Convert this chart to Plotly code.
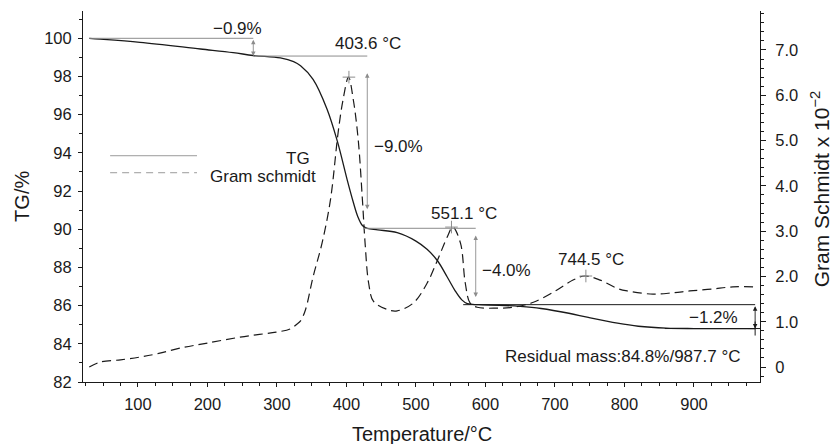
import plotly.graph_objects as go

# ---- data ----
tg_temp = [30, 46, 103, 190, 237, 266, 305, 324, 334, 352, 372, 387, 401, 410, 416, 423, 430,
           445, 473, 500, 516, 531, 545, 556, 566, 574, 590, 620, 650, 680, 720, 748, 790, 820,
           860, 900, 950, 988]
tg_val = [100.0, 99.96, 99.79, 99.44, 99.25, 99.1, 98.97, 98.78, 98.56, 97.85, 96.3, 94.6, 92.6,
          91.4, 90.7, 90.2, 90.05, 89.97, 89.82, 89.38, 88.95, 88.35, 87.5, 86.8, 86.3, 86.1,
          86.05, 86.02, 85.96, 85.85, 85.6, 85.38, 85.08, 84.92, 84.82, 84.8, 84.8, 84.8]

gs_temp = [30, 46, 75, 103, 130, 161, 200, 247, 275, 299, 319, 329, 334, 341, 352, 365, 377,
           388, 395, 403, 410, 417, 423, 427, 432, 439, 459, 473, 496, 516, 531, 545, 553,
           564, 571, 578, 588, 617, 640, 669, 703, 726, 743, 765, 789, 804, 841, 870, 894,
           925, 956, 988]
gs_val = [0.0, 0.11, 0.16, 0.22, 0.3, 0.42, 0.53, 0.66, 0.72, 0.77, 0.84, 0.95, 1.02, 1.26, 1.99,
          2.74, 3.69, 5.17, 5.89, 6.40, 5.89, 5.01, 3.69, 2.7, 1.85, 1.45, 1.27, 1.24, 1.41,
          1.85, 2.36, 2.87, 3.09, 2.74, 1.85, 1.41, 1.32, 1.30, 1.32, 1.43, 1.70, 1.92, 2.01,
          1.92, 1.74, 1.68, 1.61, 1.64, 1.68, 1.72, 1.77, 1.77]

peak_temp = [403.6, 551.1, 744.5]
peak_gs = [6.40, 3.09, 2.01]
peak_labels = ["403.6 °C", "551.1 °C", "744.5 °C"]

x_ticks = [100, 200, 300, 400, 500, 600, 700, 800, 900]
y_ticks = [82, 84, 86, 88, 90, 92, 94, 96, 98, 100]
y2_ticks = [0, 1, 2, 3, 4, 5, 6, 7]
y2_ticktext = ["0", "1.0", "2.0", "3.0", "4.0", "5.0", "6.0", "7.0"]

FONT = "Liberation Sans, Arial, Helvetica, sans-serif"
INK = "#1a1a1a"
GRAY = "#8c8c8c"

fig = go.Figure()
fig.add_trace(go.Scatter(x=tg_temp, y=tg_val, mode="lines", line=dict(color=INK, width=1.3),
                         name="TG", showlegend=False, line_shape="spline"))
fig.add_trace(go.Scatter(x=gs_temp, y=gs_val, mode="lines", yaxis="y2",
                         line=dict(color=INK, width=1.2, dash="9px,5px"),
                         name="Gram schmidt", showlegend=False, line_shape="spline"))
fig.add_trace(go.Scatter(x=peak_temp, y=peak_gs, mode="markers", yaxis="y2", showlegend=False,
                         marker=dict(symbol="cross-thin", size=9, line=dict(color=GRAY, width=1))))
# residual end marker
fig.add_trace(go.Scatter(x=[tg_temp[-1]], y=[tg_val[-1]], mode="markers", showlegend=False,
                         marker=dict(symbol="cross-thin", size=10, line=dict(color=INK, width=1))))

shapes = []
def hline(x0, x1, y, color=GRAY, dash="solid", width=1):
    shapes.append(dict(type="line", xref="x", yref="y", x0=x0, x1=x1, y0=y, y1=y,
                       line=dict(color=color, width=width, dash=dash)))

# measurement level lines
hline(tg_temp[0], 266, 100.0)
hline(266, 430, 99.07)
hline(425, 586, 90.05)
hline(568, 988, 86.05, color=INK)
hline(858, 988, 84.8, color=INK)
# legend samples
hline(60, 185, 93.85, color="#9a9a9a")
hline(60, 185, 92.96, color="#9a9a9a", dash="7px,5px")

annotations = []
def darrow(x, y0, y1, color=GRAY):
    annotations.append(dict(x=x, y=y1, ax=x, ay=y0, xref="x", yref="y", axref="x", ayref="y",
                            text="", showarrow=True, arrowhead=2, startarrowhead=2,
                            arrowside="end+start", arrowsize=1, startarrowsize=1,
                            arrowwidth=0.9, arrowcolor=color, standoff=0, startstandoff=0))

darrow(266, 100.0, 99.07)
darrow(430, 98.25, 91.05)
darrow(586, 89.75, 86.45)
darrow(988, 86.05, 84.8, color=INK)

def label(text, x, y, xanchor="center", size=17):
    annotations.append(dict(x=x, y=y, xref="x", yref="y", text=text, showarrow=False,
                            xanchor=xanchor, yanchor="middle",
                            font=dict(family=FONT, size=size, color=INK)))

label("−0.9%", 243, 100.5)
label(peak_labels[0], 431.6, 99.72)
label("−9.0%", 437, 94.35, xanchor="left")
label(peak_labels[1], 569.7, 90.82)
label("−4.0%", 592, 87.85, xanchor="left")
label(peak_labels[2], 752.4, 88.4)
label("−1.2%", 966, 85.38, xanchor="right")
label("Residual mass:84.8%/987.7 °C", 968.7, 83.33, xanchor="right")
label("TG", 351, 93.72, xanchor="right")
label("Gram schmidt", 359.5, 92.78, xanchor="right")

# axis titles
annotations.append(dict(x=-0.091, y=0.5, xref="paper", yref="paper", text="TG/%", textangle=-90,
                        showarrow=False, xanchor="center", yanchor="middle",
                        font=dict(family=FONT, size=20, color=INK)))
annotations.append(dict(x=1.089, y=0.52, xref="paper", yref="paper",
                        text="Gram Schmidt x 10<sup>−2</sup>", textangle=-90,
                        showarrow=False, xanchor="center", yanchor="middle",
                        font=dict(family=FONT, size=21, color=INK)))
annotations.append(dict(x=0.5, y=-0.14, xref="paper", yref="paper", text="Temperature/°C",
                        showarrow=False, xanchor="center", yanchor="middle",
                        font=dict(family=FONT, size=20, color=INK)))

axis_common = dict(showgrid=False, zeroline=False, showline=True, linecolor=INK, linewidth=1,
                   ticks="outside", tickcolor=INK, tickwidth=1,
                   tickfont=dict(family=FONT, size=16.5, color=INK))

fig.update_layout(
    width=836, height=444,
    margin=dict(l=83, r=76, t=11, b=62),
    paper_bgcolor="white", plot_bgcolor="white",
    showlegend=False,
    xaxis=dict(range=[21, 995], tickvals=x_ticks, ticklen=4, ticklabelstandoff=3,
               minor=dict(dtick=25, tick0=0, ticks="outside", ticklen=3, tickcolor=INK),
               **axis_common),
    yaxis=dict(range=[82, 101.43], tickvals=y_ticks, ticklen=4, ticklabelstandoff=3,
               minor=dict(dtick=1, tick0=0, ticks="outside", ticklen=3, tickcolor=INK),
               **axis_common),
    yaxis2=dict(range=[-0.33, 7.86], tickvals=y2_ticks, ticktext=y2_ticktext, overlaying="y",
                side="right", ticklen=5, ticklabelstandoff=6,
                minor=dict(dtick=0.2, tick0=0, ticks="outside", ticklen=3, tickcolor=INK),
                **axis_common),
    shapes=shapes,
    annotations=annotations,
)

fig.write_html("out.html")
